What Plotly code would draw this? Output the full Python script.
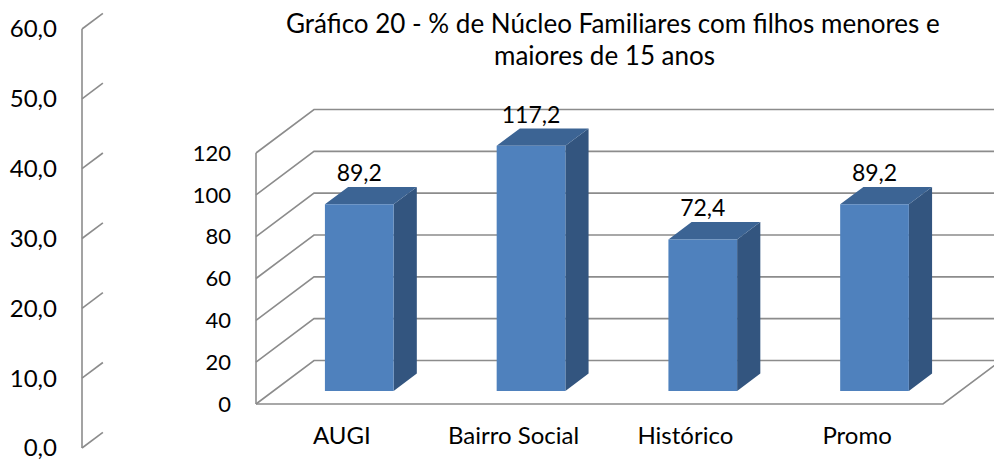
import plotly.graph_objects as go

# ---------------- data ----------------
categories = ["AUGI", "Bairro Social", "Histórico", "Promo"]
values = [89.2, 117.2, 72.4, 89.2]
y_ticks = [0, 20, 40, 60, 80, 100, 120]
ghost_ticks = [0, 10, 20, 30, 40, 50, 60]
title_lines = ["Gráfico 20 - % de Núcleo Familiares com filhos menores e",
               "maiores de 15 anos"]

# ---------------- geometry (oblique 3D projection) ----------------
W, H = 994, 461
FRONT_LEFT_PX = 256.0      # pixel x of category coordinate 0 on front plane
CAT_PX = 171.75            # pixels per category slot
ZERO_PX = 404.0            # pixel y of value 0 on front plane
UNIT_PX = 2.0917           # pixels per value unit
DEPTH_PX = (58.0, 43.5)    # full depth vector (right, up) in pixels

DX = DEPTH_PX[0] / CAT_PX          # depth in category units
DY = DEPTH_PX[1] / UNIT_PX         # depth in value units
X_RANGE = [-FRONT_LEFT_PX / CAT_PX, (W - FRONT_LEFT_PX) / CAT_PX]
Y_RANGE = [-(H - ZERO_PX) / UNIT_PX, ZERO_PX / UNIT_PX]

BAR_W = 0.4
BAR_D0, BAR_D1 = 0.3, 0.7          # bar depth span as fraction of full depth
N = len(categories)
YMAX = max(y_ticks)
CAT_LABEL_DROP_PX = 34             # category labels below the floor edge

# ghost axis (partially hidden chart on the left)
GHOST_X = (82 - FRONT_LEFT_PX) / CAT_PX
GHOST_ZERO_PX, GHOST_TOP_PX = 448.0, 29.0
GHOST_UNIT_PX = (GHOST_ZERO_PX - GHOST_TOP_PX) / max(ghost_ticks)
GHOST_RANGE = [-(H - GHOST_ZERO_PX) / GHOST_UNIT_PX, GHOST_ZERO_PX / GHOST_UNIT_PX]
GHOST_FRAC = 0.36

GRID = "#8C8C8C"
FRONT = "#4F81BD"
TOP = "#3C6494"
SIDE = "#33557F"
FONT = "Lato, 'Open Sans', sans-serif"

fig = go.Figure()

# ---------------- walls / gridlines ----------------
gx, gy = [], []
for t in y_ticks:
    gx += [0, DX, N + DX + 1, None]
    gy += [t, t + DY, t + DY, None]
gx += [0, 0, None]
gy += [0, YMAX, None]
gx += [0, N, N + DX, None]
gy += [0, 0, DY, None]
fig.add_trace(go.Scatter(x=gx, y=gy, mode="lines", line=dict(color=GRID, width=1.6),
                         hoverinfo="skip", showlegend=False, zorder=0))

# ---------------- bars ----------------
fx0, fy0 = BAR_D0 * DX, BAR_D0 * DY
ddx, ddy = (BAR_D1 - BAR_D0) * DX, (BAR_D1 - BAR_D0) * DY
centers = [i + 0.5 + fx0 for i in range(N)]

sx, sy, tx, ty = [], [], [], []
for c, v in zip(centers, values):
    L, R = c - BAR_W / 2, c + BAR_W / 2
    top = v + fy0
    sx += [R, R, R + ddx, R + ddx, R, None]
    sy += [fy0, top, top + ddy, fy0 + ddy, fy0, None]
    tx += [L, R, R + ddx, L + ddx, L, None]
    ty += [top, top, top + ddy, top + ddy, top, None]

fig.add_trace(go.Scatter(x=sx, y=sy, mode="lines", fill="toself", fillcolor=SIDE,
                         line=dict(width=0, color=SIDE), hoverinfo="skip",
                         showlegend=False, zorder=1))
fig.add_trace(go.Scatter(x=tx, y=ty, mode="lines", fill="toself", fillcolor=TOP,
                         line=dict(width=0, color=TOP), hoverinfo="skip",
                         showlegend=False, zorder=1))
fig.add_trace(go.Bar(x=centers, y=values, base=[fy0] * N, width=BAR_W,
                     marker=dict(color=FRONT, line=dict(width=0)),
                     showlegend=False, zorder=2))

# value labels
fig.add_trace(go.Scatter(
    x=centers, y=[v + fy0 + ddy for v in values], mode="text",
    text=[f"{v:.1f}".replace(".", ",") for v in values],
    textposition="top center", textfont=dict(family=FONT, size=23, color="#000"),
    hoverinfo="skip", showlegend=False, zorder=3))

# category labels (below front floor edge)
fig.add_trace(go.Scatter(
    x=[i + 0.5 for i in range(N)], y=[-CAT_LABEL_DROP_PX / UNIT_PX] * N, mode="text",
    text=categories, textposition="middle center",
    textfont=dict(family=FONT, size=24, color="#000"),
    hoverinfo="skip", showlegend=False, zorder=3))

# ---------------- ghost axis ----------------
hx, hy = [GHOST_X, GHOST_X, None], [0, max(ghost_ticks), None]
for t in ghost_ticks:
    hx += [GHOST_X, GHOST_X + GHOST_FRAC * DX, None]
    hy += [t, t + GHOST_FRAC * DEPTH_PX[1] / GHOST_UNIT_PX, None]
fig.add_trace(go.Scatter(x=hx, y=hy, yaxis="y3", mode="lines",
                         line=dict(color=GRID, width=1.6), hoverinfo="skip",
                         showlegend=False))
fig.add_trace(go.Scatter(x=[None], y=[None], yaxis="y2", showlegend=False, hoverinfo="skip"))

annotations = [
    dict(text=title_lines[0], x=613 / W, y=1 - 23 / H, xref="paper", yref="paper",
         xanchor="center", yanchor="middle", showarrow=False,
         font=dict(family=FONT, size=26, color="#000")),
    dict(text=title_lines[1], x=604 / W, y=1 - 55 / H, xref="paper", yref="paper",
         xanchor="center", yanchor="middle", showarrow=False,
         font=dict(family=FONT, size=26, color="#000")),
]

fig.update_layout(
    width=W, height=H, autosize=False,
    margin=dict(l=0, r=0, t=0, b=0, pad=0),
    paper_bgcolor="white", plot_bgcolor="rgba(0,0,0,0)",
    separators=",.",
    font=dict(family=FONT, color="#000"),
    xaxis=dict(range=X_RANGE, domain=[0, 1], visible=False, fixedrange=True),
    yaxis=dict(range=Y_RANGE, domain=[0, 1], visible=False, fixedrange=True),
    yaxis2=dict(range=Y_RANGE, overlaying="y", anchor="free",
                position=231 / W, side="left",
                tickvals=y_ticks, ticks="", showgrid=False, zeroline=False,
                showline=False, tickfont=dict(family=FONT, size=22, color="#000"),
                fixedrange=True),
    yaxis3=dict(range=GHOST_RANGE, overlaying="y", anchor="free",
                position=82 / W, side="left", tickvals=ghost_ticks,
                tickformat=".1f", ticks="", showgrid=False, zeroline=False,
                showline=False, tickfont=dict(family=FONT, size=24, color="#000"),
                ticklabelstandoff=25, ticklabeloverflow="allow", fixedrange=True),
    annotations=annotations,
    showlegend=False,
)

fig.write_html("out.html", config={"displayModeBar": False},
               post_script="document.body.style.margin='0';")
